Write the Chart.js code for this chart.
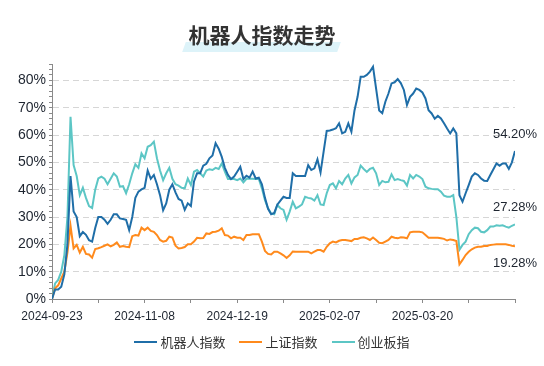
<!DOCTYPE html>
<html>
<head>
<meta charset="utf-8">
<script src="https://cdn.jsdelivr.net/npm/chart.js"></script>
<style>
  html, body { margin: 0; padding: 0; background: #fff; }
  #wrap { position: relative; width: 544px; height: 366px; overflow: hidden;
          font-family: "Noto Sans CJK SC", "Noto Sans", sans-serif; }
  #chart { position: absolute; left: 0; top: 0; }
  #mark { position: absolute; left: 184px; top: 42px; width: 155px; height: 10px;
          background: #ddf3f9; transform: skewX(-20deg); }
  #title { position: absolute; left: 0; top: 19px; width: 524px; text-align: center;
           font-size: 21px; font-weight: bold; color: #333; line-height: 30px; }
  #legend { position: absolute; left: 0; top: 332px; width: 544px; display: flex;
            justify-content: center; gap: 14px; font-size: 13px; color: #333; line-height: 20px; }
  #legend .item { display: flex; align-items: center; }
  #legend .line { width: 23px; height: 2px; margin-right: 3px; }
</style>
</head>
<body>
<div id="wrap">
  <canvas id="chart" width="544" height="366"></canvas>
  <div id="mark"></div>
  <div id="title">机器人指数走势</div>
  <div id="legend"></div>
</div>
<script>
// trading days since 2024-09-23, cumulative change in %
const seriesNames = ['机器人指数', '上证指数', '创业板指'];
const seriesColors = ['#1f6ea8', '#ff8a1c', '#5cc6c5'];

const robot = [
  0, 3.5, 3.5, 4.5, 9, 20, 45, 32, 30, 23,
  24.5, 23.5, 21.5, 21, 26, 30, 30, 29, 27.5, 29,
  31, 31, 29.5, 29.3, 29, 25.2, 30, 37, 39.3, 40.1,
  40.7, 47, 44, 45.4, 42, 38, 32.5, 35, 40, 42,
  39, 36.6, 36, 32.6, 35, 34, 43, 46, 46, 48.8,
  49.5, 51.5, 52.5, 57, 55, 52, 48, 45.4, 43.9, 44.8,
  46.6, 48.4, 43.9, 45.1, 44.4, 46.6, 44.1, 44.4, 42, 37,
  33, 31, 31.5, 34.5, 36, 37.4, 37, 37, 46, 45,
  45, 45, 45, 49, 47.2, 47.8, 51.1, 46.3, 53.9, 61.5,
  61.7, 62, 62.5, 64.3, 60.6, 61.2, 64.3, 61.2, 69, 74,
  81.3, 81.3, 82, 83.2, 85, 77, 69, 68, 72.2, 75.2,
  78.9, 79.3, 80.5, 79, 76.5, 71, 74, 75.2, 77, 76.5,
  75.6, 73.4, 69.1, 67.9, 66, 67, 66.1, 64.3, 62.4, 60.6,
  62.4, 60.6, 38, 35.6, 38.7, 41.7, 44.8, 46, 45.4, 44.1,
  43.3, 43.2, 45.4, 47.5, 49.6, 48.8, 49.6, 49.6, 47.6, 50, 54.2
];

const shanghai = [
  0, 3.9, 5, 7.5, 10, 17, 26.8, 18.5, 19.8, 17,
  19.1, 16.5, 16.3, 15.1, 18.3, 18.6, 19, 19.5, 20, 19.3,
  19.8, 20.7, 19.1, 19.4, 19.1, 19, 23, 23.4, 23.2, 26.1,
  25.2, 26.1, 24.9, 24.6, 23.4, 21.6, 21, 21.3, 22.8, 22.5,
  19.5, 18.5, 18.7, 19, 20, 20, 21, 22.4, 22.2, 22.3,
  24, 23.8, 24.5, 24.6, 25, 25.9, 23.4, 23.2, 22.2, 22.8,
  22.4, 22.4, 21.6, 23.4, 23.4, 23.7, 23.7, 23.7, 21, 17.6,
  16.5, 16.3, 17.3, 17.3, 16.7, 16, 15, 16, 17.4, 17.3,
  17.3, 17.3, 17.3, 17.3, 16.7, 17.3, 17.9, 17.9, 17.3, 19.1,
  20.4, 21, 20.7, 21.3, 21.6, 21.6, 21.4, 21.2, 22, 22,
  22.4, 22.6, 22.2, 21.6, 22.5, 21.6, 20.6, 20.4, 21, 21.6,
  22.8, 22.4, 22.2, 22.6, 22.5, 22.2, 24.4, 24.6, 24.6, 24.6,
  24.4, 23.4, 22.4, 22.4, 22.4, 22.4, 22.2, 22, 21.4, 21.8,
  21.6, 21.2, 12.7, 14.3, 16.1, 17.3, 18.2, 18.8, 19.1, 19.1,
  19.4, 19.4, 19.8, 19.9, 20, 20, 20, 20, 19.8, 19.5, 19.28
];

const chinext = [
  0, 5.7, 7, 10, 16, 30, 66.7, 49, 45, 38,
  40.7, 37, 34, 33.3, 40, 44.1, 44.8, 44, 42, 44,
  46, 44.8, 41.1, 41.3, 38.7, 42, 46, 49.3, 48, 53.3,
  51.5, 55.7, 56.3, 57.6, 51.5, 47, 43.5, 46, 48, 44,
  42, 41.5, 40.7, 40.5, 44.1, 41.7, 46.6, 47.2, 46, 44.8,
  47, 47.5, 47.2, 48, 47.6, 49.6, 46.6, 43.9, 43.9, 43.9,
  43.5, 44.1, 42.7, 44, 44, 44, 43.9, 43.9, 40.5, 36.2,
  33.2, 31.3, 31, 34.4, 33.2, 32.6, 29, 32, 35.6, 33.2,
  33.8, 34.6, 37.4, 37, 36.8, 36, 38, 34.6, 34.4, 38.7,
  41.7, 42.3, 40.5, 43.2, 42, 44.1, 45.4, 42.3, 44.5, 45.4,
  48.8, 47.6, 46.5, 47.6, 48, 46, 41.7, 43.2, 42.7, 42.9,
  45.6, 43.5, 43.9, 43.5, 43.2, 41.5, 45.4, 44.1, 45.4, 44.8,
  43.9, 41.1, 40.5, 40.3, 40.2, 40.2, 39.3, 37.8, 37.4, 37.4,
  38, 30, 18, 19.8, 21, 23.7, 25.2, 26.1, 25.9, 24.6,
  24.4, 25.2, 26.5, 26.5, 27, 26.8, 27, 26.5, 26.1, 26.8, 27.28
];

// x axis: one tick every 15 trading days, a date on every second one
const tickDates = ['2024-09-23', '', '2024-11-08', '', '2024-12-19', '', '2025-02-07', '', '2025-03-20', '', ''];

// offsets of the end labels from the last point (px)
const endOffsets = [-16, 17, -17];

const allSeries = [robot, shanghai, chinext];
const days = robot.map((v, i) => i);

// html legend
const legend = document.getElementById('legend');
seriesNames.forEach((name, i) => {
    const item = document.createElement('div');
    item.className = 'item';
    item.innerHTML = '<span class="line" style="background:' + seriesColors[i] + '"></span><span>' + name + '</span>';
    legend.appendChild(item);
});

const endLabels = {
    id: 'endLabels',
    afterDatasetsDraw(chart) {
        const ctx = chart.ctx;
        ctx.save();
        ctx.font = '13px "Liberation Sans", sans-serif';
        ctx.fillStyle = '#1e2530';
        ctx.textAlign = 'center';
        ctx.textBaseline = 'middle';
        allSeries.forEach((data, i) => {
            const pts = chart.getDatasetMeta(i).data;
            const p = pts[pts.length - 1];
            ctx.fillText(data[data.length - 1].toFixed(2) + '%', p.x, p.y + endOffsets[i]);
        });
        ctx.restore();
    }
};

Chart.defaults.font.family = '"Liberation Sans", "Noto Sans CJK SC", sans-serif';
Chart.defaults.color = '#1e2530';

new Chart(document.getElementById('chart'), {
    type: 'line',
    data: {
        labels: days,
        datasets: allSeries.map((data, i) => ({
            label: seriesNames[i],
            data: data,
            borderColor: seriesColors[i],
            backgroundColor: seriesColors[i],
            borderWidth: 2,
            pointRadius: 0,
            tension: 0
        }))
    },
    options: {
        responsive: false,
        devicePixelRatio: 1,
        animation: false,
        layout: { padding: { left: 0, top: 64, right: 29, bottom: 41 } },
        plugins: { legend: { display: false }, tooltip: { enabled: false } },
        scales: {
            x: {
                type: 'linear',
                min: 0,
                max: 150,
                afterFit: s => { s.height = 26; },
                ticks: {
                    stepSize: 15,
                    autoSkip: false,
                    maxRotation: 0,
                    padding: 6,
                    font: { size: 12 },
                    callback: (v, i) => tickDates[i]
                },
                grid: { color: 'transparent', tickColor: '#8a8a8a', tickLength: 4 },
                border: { color: '#8a8a8a', width: 1 }
            },
            y: {
                min: 0,
                max: 86,
                afterFit: s => { s.width = 52; },
                ticks: {
                    stepSize: 2,
                    autoSkip: false,
                    padding: 3,
                    font: { size: 14 },
                    callback: v => (v % 10 === 0 ? v + '%' : '')
                },
                grid: {
                    color: c => (c.tick && c.tick.value % 10 === 0 && c.tick.value > 0 ? '#d6d6d6' : 'transparent'),
                    tickColor: '#8a8a8a',
                    tickLength: 3,
                    tickBorderDash: []
                },
                border: { color: '#8a8a8a', width: 1, dash: [6, 4] }
            }
        }
    },
    plugins: [endLabels]
});
</script>
</body>
</html>
